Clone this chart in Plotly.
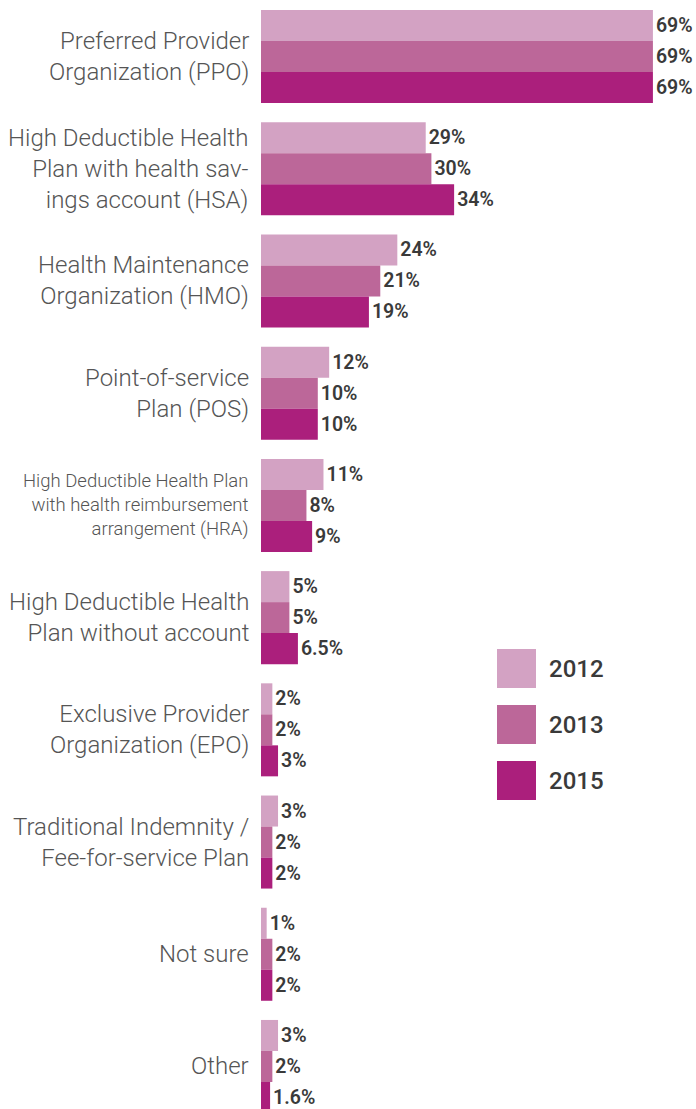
import plotly.graph_objects as go

categories = ["PPO", "HSA", "HMO", "POS", "HRA", "HDHP", "EPO", "Indemnity", "NotSure", "Other"]
category_labels = [
    "Preferred Provider<br>Organization (PPO)",
    "High Deductible Health<br>Plan with health sav-<br>ings account (HSA)",
    "Health Maintenance<br>Organization (HMO)",
    "Point-of-service<br>Plan (POS)",
    "High Deductible Health Plan<br>with health reimbursement<br>arrangement (HRA)",
    "High Deductible Health<br>Plan without account",
    "Exclusive Provider<br>Organization (EPO)",
    "Traditional Indemnity /<br>Fee-for-service Plan",
    "Not sure",
    "Other",
]
label_sizes = [24, 24, 24, 24, 18.5, 24, 24, 24, 24, 24]
years = ["2012", "2013", "2015"]
v2012 = [69, 29, 24, 12, 11, 5, 2, 3, 1, 3]
v2013 = [69, 30, 21, 10, 8, 5, 2, 2, 2, 2]
v2015 = [69, 34, 19, 10, 9, 6.5, 3, 2, 2, 1.6]
colors = ["#D3A2C3", "#BC6799", "#AB1F7C"]

W, H = 696, 1109
ML = 261

fig = go.Figure()
for yr, vals, col in zip(years, [v2012, v2013, v2015], colors):
    fig.add_trace(go.Bar(
        y=categories, x=vals, orientation="h", name=yr,
        marker=dict(color=col, line=dict(width=0)),
        text=[f"{v:g}%" for v in vals], textposition="outside",
        textfont=dict(family="Roboto", size=19.5, color="#3a3a3a", weight=600),
        cliponaxis=False, hoverinfo="skip",
    ))

annotations = []
for cat, lab, sz in zip(categories, category_labels, label_sizes):
    annotations.append(dict(
        text=lab, xref="paper", x=0, xshift=-10, xanchor="right",
        yref="y", y=cat, yanchor="middle", showarrow=False, align="right",
        font=dict(family="Roboto", size=sz, color="#555555", weight=300),
    ))

shapes = []
leg_tops = [649, 705, 761]
for yr, col, top in zip(years, colors, leg_tops):
    x0 = (497 - ML) / (W - ML)
    x1 = (536 - ML) / (W - ML)
    y0 = 1 - (top + 39) / H
    y1 = 1 - top / H
    shapes.append(dict(type="rect", xref="paper", yref="paper", x0=x0, x1=x1, y0=y0, y1=y1,
                       fillcolor=col, line=dict(width=0)))
    annotations.append(dict(
        text=yr, xref="paper", yref="paper", x=(547 - ML) / (W - ML), y=1 - (top + 19.5) / H,
        xanchor="left", yanchor="middle", showarrow=False,
        font=dict(family="Roboto", size=24, color="#3a3a3a", weight=500),
    ))

fig.update_layout(
    width=W, height=H, barmode="group", bargap=0.171, bargroupgap=0,
    margin=dict(l=ML, r=0, t=0, b=0),
    paper_bgcolor="white", plot_bgcolor="white",
    showlegend=False, annotations=annotations, shapes=shapes,
    xaxis=dict(range=[0, (W - ML) / 5.68], visible=False, fixedrange=True),
    yaxis=dict(range=[9.379, -0.504], showticklabels=False, showgrid=False,
               zeroline=False, showline=False, ticks="", fixedrange=True),
)

fig.write_html("out.html", config={"displayModeBar": False},
               post_script="document.body.style.margin='0';document.body.style.overflow='hidden';")
